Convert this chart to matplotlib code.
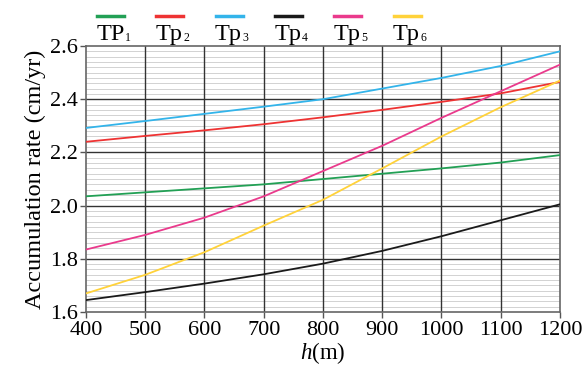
import numpy as np
import matplotlib
matplotlib.use("Agg")
import matplotlib.pyplot as plt
from matplotlib.lines import Line2D
from matplotlib.ticker import MultipleLocator

plt.rcParams['font.family'] = ['Liberation Serif', 'DejaVu Serif']
plt.rcParams['mathtext.fontset'] = 'custom'
plt.rcParams['mathtext.rm'] = 'Liberation Serif'
plt.rcParams['mathtext.it'] = 'Liberation Serif:italic'

# data
h = [400, 500, 600, 700, 800, 900, 1000, 1100, 1200]
tp1 = [2.035, 2.05, 2.065, 2.08, 2.10, 2.12, 2.14, 2.162, 2.19]
tp2 = [2.24, 2.262, 2.283, 2.306, 2.332, 2.36, 2.39, 2.422, 2.465]
tp3 = [2.292, 2.318, 2.345, 2.372, 2.40, 2.44, 2.48, 2.525, 2.58]
tp4 = [1.645, 1.675, 1.707, 1.742, 1.782, 1.83, 1.885, 1.945, 2.005]
tp5 = [1.835, 1.89, 1.955, 2.035, 2.13, 2.225, 2.33, 2.43, 2.53]
tp6 = [1.67, 1.74, 1.825, 1.925, 2.022, 2.14, 2.26, 2.37, 2.47]

names = ['TP', 'Tp', 'Tp', 'Tp', 'Tp', 'Tp']
subs = ['1', '2', '3', '4', '5', '6']
colors = ['#22a055', '#ee3333', '#33b4ea', '#1a1a1a', '#ea3a8c', '#ffd23a']
series = [tp1, tp2, tp3, tp4, tp5, tp6]

fig = plt.figure(figsize=(5.87, 3.68), dpi=100)
ax = fig.add_axes([0.1465, 0.152, 0.8075, 0.723])

for y, c in zip(series, colors):
    ax.plot(h, y, color=c, lw=1.3, zorder=3)

ax.set_xlim(400, 1200)
ax.set_ylim(1.6, 2.6)
ax.xaxis.set_major_locator(MultipleLocator(100))
ax.yaxis.set_major_locator(MultipleLocator(0.2))
ax.yaxis.set_major_formatter(plt.FuncFormatter(lambda v, p: f"{v:.1f}"))

# fine horizontal rules, then the dark grid on top
for v in np.arange(1.62, 2.6, 0.02):
    ax.axhline(v, color='#d2d2d2', lw=0.7, zorder=0)
for v in np.arange(1.8, 2.6, 0.2):
    ax.axhline(v, color='#333333', lw=1.0, zorder=1)
for v in range(500, 1200, 100):
    ax.axvline(v, color='#333333', lw=1.0, zorder=1)

ax.tick_params(which='major', direction='out', length=4, width=1, color='#555555',
               labelsize=16)
ax.tick_params(axis='x', pad=2.5)
ax.tick_params(axis='y', pad=1.5)
for s in ax.spines.values():
    s.set_color('#666666')
    s.set_linewidth(1.2)

ax.set_ylabel('Accumulation rate (cm/yr)', fontsize=17.5, labelpad=3)
ax.set_xlabel('$h$(m)', fontsize=16.5, labelpad=0)

# legend drawn as a short line above each label
r = fig.canvas.get_renderer()
x0 = 97 / 587
dx = 59.3 / 587
wl = 27 / 587
for i, (nm, sb, c) in enumerate(zip(names, subs, colors)):
    xl = x0 + i * dx
    fig.add_artist(Line2D([xl, xl + wl], [1 - 16 / 368] * 2, color=c, lw=2.5,
                          transform=fig.transFigure))
    t = fig.text(xl - 0.001, 1 - 40 / 368, nm, fontsize=17.5, ha='left', va='baseline')
    bb = t.get_window_extent(renderer=r)
    fig.text(bb.x1 / fig.bbox.width + 0.001, 1 - 41 / 368, sb, fontsize=8.5,
             ha='left', va='baseline')

fig.savefig('out.png', dpi=100)
